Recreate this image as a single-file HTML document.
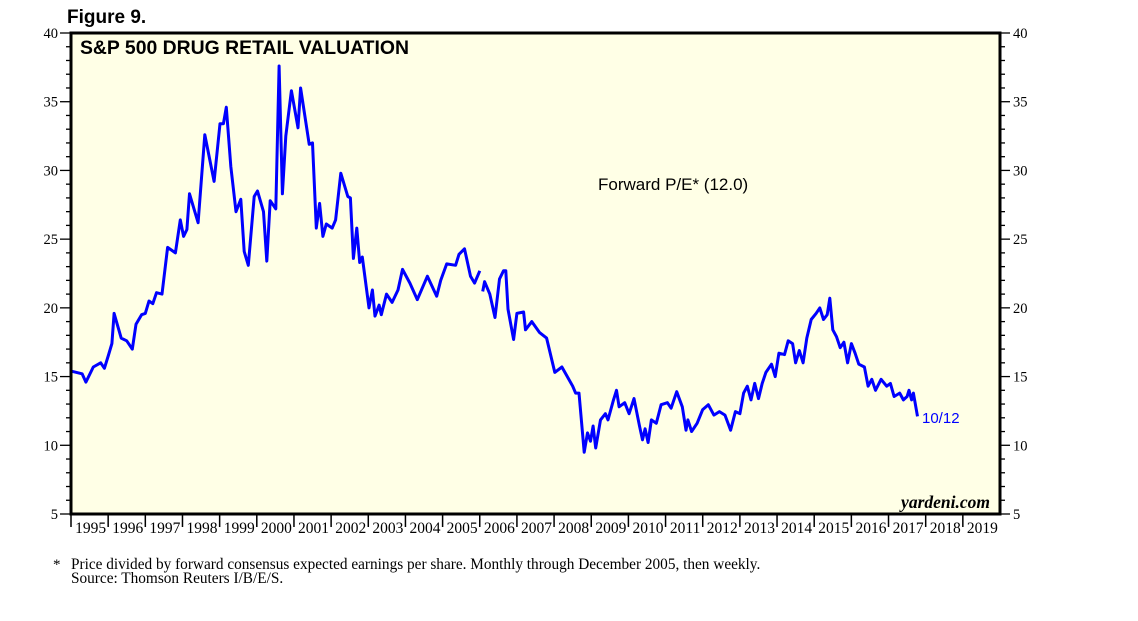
<!DOCTYPE html>
<html><head><meta charset="utf-8"><style>
body{margin:0;background:#fff;}
svg{display:block;}
</style></head><body>
<svg id="chart" width="1138" height="621" viewBox="0 0 1138 621" xmlns="http://www.w3.org/2000/svg">
<text x="67" y="23" font-family="Liberation Sans, sans-serif" font-weight="bold" font-size="19">Figure 9.</text>
<rect x="71" y="33" width="929" height="481" fill="#ffffe6"/>
<g id="ticks"></g>
<g id="series"></g>
<rect x="71" y="33" width="929" height="481" fill="none" stroke="#000" stroke-width="3"/>
<text x="80" y="54" font-family="Liberation Sans, sans-serif" font-weight="bold" font-size="19.4">S&amp;P 500 DRUG RETAIL VALUATION</text>
<text x="598" y="190" font-family="Liberation Sans, sans-serif" font-size="17">Forward P/E* (12.0)</text>
<text x="922" y="423" font-family="Liberation Sans, sans-serif" font-size="15" fill="#0000ff">10/12</text>
<text x="990" y="508" text-anchor="end" font-family="Liberation Serif, serif" font-style="italic" font-weight="bold" font-size="17.5">yardeni.com</text>
<text x="53" y="569" font-family="Liberation Serif, serif" font-size="15">*</text>
<text x="71" y="569" font-family="Liberation Serif, serif" font-size="15.3">Price divided by forward consensus expected earnings per share. Monthly through December 2005, then weekly.</text>
<text x="71" y="583" font-family="Liberation Serif, serif" font-size="15.3">Source: Thomson Reuters I/B/E/S.</text>
</svg>
<script>
const yearLabels=[1995,1996,1997,1998,1999,2000,2001,2002,2003,2004,2005,2006,2007,2008,2009,2010,2011,2012,2013,2014,2015,2016,2017,2018,2019];
const yTickLabels=[5,10,15,20,25,30,35,40];
const monthlyT=[1995.0,1995.3,1995.4,1995.6,1995.8,1995.9,1996.0,1996.1,1996.16,1996.35,1996.5,1996.65,1996.75,1996.9,1997.0,1997.1,1997.2,1997.3,1997.45,1997.6,1997.81,1997.94,1998.03,1998.12,1998.19,1998.42,1998.6,1998.85,1999.01,1999.1,1999.18,1999.3,1999.44,1999.57,1999.66,1999.77,1999.93,2000.02,2000.18,2000.27,2000.36,2000.51,2000.6,2000.69,2000.78,2000.93,2001.11,2001.18,2001.41,2001.5,2001.6,2001.69,2001.78,2001.87,2002.03,2002.12,2002.26,2002.45,2002.52,2002.6,2002.69,2002.77,2002.84,2003.02,2003.11,2003.18,2003.29,2003.35,2003.49,2003.64,2003.8,2003.92,2004.12,2004.32,2004.59,2004.84,2004.95,2005.11,2005.35,2005.44,2005.59,2005.75,2005.86,2006.0];
const monthlyV=[15.4,15.2,14.6,15.7,16.0,15.6,16.5,17.4,19.6,17.8,17.6,17.0,18.8,19.5,19.6,20.5,20.3,21.1,21.0,24.4,24.0,26.4,25.2,25.7,28.3,26.2,32.6,29.2,33.4,33.4,34.6,30.3,27.0,27.9,24.1,23.1,28.1,28.5,27.0,23.4,27.8,27.2,37.6,28.3,32.5,35.8,33.1,36.0,31.9,32.0,25.8,27.6,25.2,26.1,25.8,26.4,29.8,28.1,28.0,23.6,25.8,23.3,23.7,20.0,21.3,19.4,20.2,19.5,21.0,20.4,21.3,22.8,21.8,20.6,22.3,20.85,22.0,23.2,23.1,23.9,24.3,22.3,21.8,22.7];
const weeklyT=[2006.08,2006.13,2006.27,2006.41,2006.53,2006.64,2006.7,2006.76,2006.91,2007.0,2007.18,2007.23,2007.4,2007.61,2007.8,2008.02,2008.21,2008.5,2008.58,2008.67,2008.81,2008.9,2008.98,2009.05,2009.12,2009.25,2009.38,2009.45,2009.6,2009.68,2009.75,2009.9,2010.02,2010.15,2010.3,2010.38,2010.45,2010.53,2010.62,2010.75,2010.88,2011.05,2011.15,2011.3,2011.45,2011.55,2011.6,2011.7,2011.85,2012.0,2012.15,2012.3,2012.45,2012.6,2012.75,2012.88,2013.0,2013.1,2013.2,2013.3,2013.4,2013.5,2013.6,2013.7,2013.85,2013.95,2014.05,2014.2,2014.3,2014.42,2014.5,2014.6,2014.7,2014.8,2014.92,2015.05,2015.15,2015.25,2015.35,2015.42,2015.5,2015.6,2015.7,2015.8,2015.9,2016.0,2016.1,2016.2,2016.35,2016.45,2016.55,2016.65,2016.8,2016.95,2017.05,2017.15,2017.3,2017.4,2017.5,2017.55,2017.62,2017.67,2017.78];
const weeklyV=[21.2,21.9,21.0,19.3,22.1,22.7,22.7,19.9,17.7,19.6,19.7,18.4,19.0,18.2,17.8,15.3,15.7,14.3,13.8,13.8,9.5,10.9,10.3,11.4,9.8,11.85,12.3,11.85,13.3,14.0,12.8,13.1,12.3,13.4,11.4,10.4,11.2,10.2,11.85,11.6,12.95,13.1,12.7,13.9,12.8,11.1,11.85,11.0,11.6,12.6,12.95,12.2,12.45,12.2,11.1,12.45,12.3,13.8,14.3,13.3,14.5,13.4,14.5,15.3,15.9,15.0,16.7,16.6,17.6,17.4,16.0,16.9,16.0,17.8,19.15,19.6,20.0,19.15,19.5,20.7,18.4,17.9,17.1,17.5,16.0,17.4,16.7,15.9,15.7,14.3,14.8,14.0,14.8,14.3,14.5,13.55,13.8,13.3,13.55,14.0,13.3,13.8,12.1];

const NS='http://www.w3.org/2000/svg';
const X0=71,X1=1000,Y0=514,Y1=33,T0=1995,T1=2020,V0=5,V1=40;
const xs=t=>X0+(t-T0)/(T1-T0)*(X1-X0);
const ys=v=>Y0-(v-V0)/(V1-V0)*(Y0-Y1);
function mk(tag,attrs,parent){const e=document.createElementNS(NS,tag);for(const k in attrs)e.setAttribute(k,attrs[k]);parent.appendChild(e);return e;}
const tk=document.getElementById('ticks');
for(let v=V0;v<=V1;v++){
  const major=v%5===0,y=ys(v);
  const l=mk('line',{x1:X0-(major?11:5),x2:X0,y1:y,y2:y,stroke:'#000','stroke-width':1.3},tk);
  
  
  const r=mk('line',{x1:X1,x2:X1+(major?10:5),y1:y,y2:y,stroke:'#000','stroke-width':1.3},tk);
  
  
}
yTickLabels.forEach(v=>{
  const a=mk('text',{x:X0-13,y:ys(v)+5,'text-anchor':'end','font-family':'Liberation Serif, serif','font-size':14.5},tk);
  a.textContent=v;
  
  
  const b=mk('text',{x:X1+13,y:ys(v)+5,'font-family':'Liberation Serif, serif','font-size':14.5},tk);
  b.textContent=v;
  
  
});
yearLabels.forEach(yr=>{
  const x=xs(yr);
  const s=mk('line',{x1:x,x2:x,y1:Y0,y2:Y0+13,stroke:'#000','stroke-width':1.5},tk);
  
  
  const t=mk('text',{x:xs(yr+0.5)+1,y:Y0+19,'text-anchor':'middle','font-family':'Liberation Serif, serif','font-size':15.5},tk);
  t.textContent=yr;
  
  
});
const sg=document.getElementById('series');
function path(T,V,name){
  const d=T.map((t,i)=>(i?'L':'M')+xs(t).toFixed(1)+','+ys(V[i]).toFixed(1)).join('');
  const p=mk('path',{d:d,fill:'none',stroke:'#0000ff','stroke-width':3,'stroke-linejoin':'round'},sg);
  
  
}
path(monthlyT,monthlyV,'forward-pe-monthly-line');
path(weeklyT,weeklyV,'forward-pe-weekly-line');
</script>
</body></html>
